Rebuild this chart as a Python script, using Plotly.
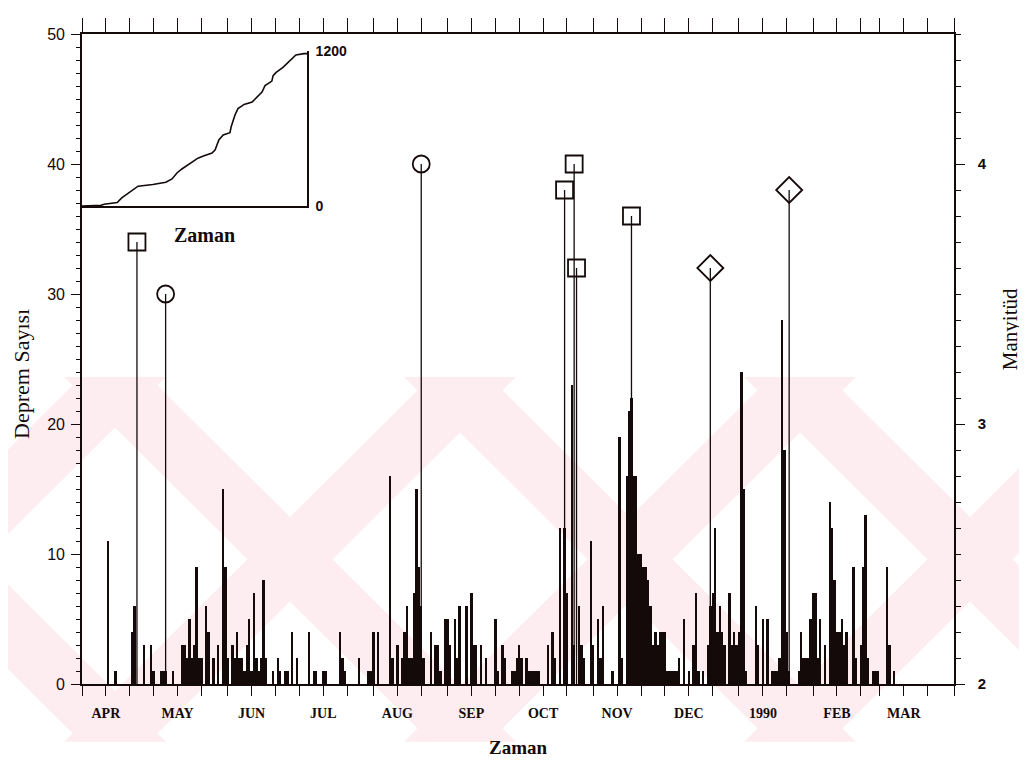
import datetime as dt
import plotly.graph_objects as go

# ---------------- data ----------------
start_date = dt.date(1989, 4, 1)

count_days = [11, 14, 21, 22, 26, 29, 30, 33, 34, 35, 38, 42, 43, 44, 45, 46, 47, 48, 49, 50,
              52, 53, 55, 57, 59, 60, 61, 63, 64, 65, 66, 67, 68, 69, 70, 71, 72, 73, 74, 75,
              76, 77, 80, 82, 83, 85, 86, 88, 90, 95, 97, 98, 101, 102, 108, 109, 110, 116, 120, 121,
              122, 124, 129, 130, 132, 134, 135, 136, 137, 138, 139, 140, 141, 142, 143, 146, 148, 149, 150, 152,
              153, 154, 156, 157, 158, 161, 163, 164, 165, 167, 169, 173, 174, 176, 177, 180, 181, 182, 183, 184,
              186, 187, 188, 189, 190, 191, 195, 197, 198, 200, 202, 203, 205, 206, 208, 209, 210, 213, 214, 216,
              217, 218, 222, 225, 226, 228, 229, 230, 231, 232, 233, 234, 235, 236, 237, 238, 239, 240, 241, 242,
              243, 244, 245, 246, 247, 248, 249, 250, 252, 254, 256, 257, 258, 260, 262, 263, 264, 265, 266, 267,
              268, 269, 271, 272, 273, 274, 275, 276, 277, 278, 282, 283, 285, 287, 289, 290, 291, 292, 293, 294,
              295, 296, 300, 301, 302, 303, 304, 305, 306, 307, 308, 309, 311, 313, 314, 315, 316, 317, 318, 319,
              320, 323, 324, 326, 327, 328, 329, 331, 332, 333, 337, 338, 340]
count_values = [11, 1, 4, 6, 3, 3, 1, 1, 1, 1, 1, 3, 3, 2, 5, 2, 3, 9, 2, 2,
                6, 4, 2, 3, 15, 9, 2, 3, 2, 4, 2, 2, 1, 3, 5, 1, 7, 2, 1, 2,
                8, 2, 1, 2, 1, 1, 1, 4, 2, 4, 1, 1, 1, 1, 4, 2, 1, 2, 1, 1,
                4, 4, 16, 2, 3, 2, 4, 6, 2, 2, 7, 15, 9, 6, 2, 4, 3, 3, 1, 5,
                5, 3, 5, 2, 6, 6, 7, 3, 3, 3, 2, 5, 1, 3, 2, 1, 1, 2, 3, 2,
                2, 1, 1, 1, 1, 1, 3, 4, 2, 12, 12, 7, 23, 3, 6, 3, 2, 11, 3, 5,
                2, 6, 1, 19, 2, 16, 21, 22, 16, 16, 10, 10, 9, 9, 8, 6, 3, 4, 3, 4,
                4, 4, 1, 1, 1, 1, 1, 2, 5, 1, 3, 7, 1, 1, 3, 6, 7, 12, 4, 6,
                4, 3, 7, 3, 4, 3, 4, 24, 15, 1, 6, 3, 5, 5, 1, 1, 1, 2, 28, 18,
                4, 1, 1, 4, 2, 2, 2, 5, 7, 7, 2, 5, 3, 14, 12, 8, 4, 4, 5, 3,
                4, 9, 2, 3, 9, 13, 2, 1, 1, 1, 9, 3, 1]

mag_days = [23, 35, 142, 202, 206, 207, 230, 263, 296]
mag_values = [3.7, 3.5, 4.0, 3.9, 4.0, 3.6, 3.8, 3.6, 3.9]
mag_symbols = ["square", "circle", "circle", "square", "square", "square", "square", "diamond", "diamond"]

inset_days = [0, 31, 36, 57, 65, 76, 83, 91, 115, 136, 146, 154, 162, 177, 188, 198, 211, 216,
              222, 229, 240, 242, 248, 253, 263, 276, 284, 292, 297, 308, 310, 315, 326, 339, 347, 360, 365]
inset_cum = [0, 5, 13, 26, 64, 102, 128, 153, 166, 184, 209, 255, 286, 337, 370, 388, 409, 434,
             511, 549, 567, 613, 702, 753, 786, 804, 842, 881, 932, 966, 1009, 1034, 1072, 1128, 1169, 1179, 1179]

month_labels = ["APR", "MAY", "JUN", "JUL", "AUG", "SEP", "OCT", "NOV", "DEC", "1990", "FEB", "MAR"]

# ---------------- derived ----------------
def day_to_date(d):
    return (start_date + dt.timedelta(days=d)).isoformat()

count_dates = [day_to_date(d) for d in count_days]
mag_dates = [day_to_date(d) for d in mag_days]

tickvals, ticktext = [], []
for i, lab in enumerate(month_labels):
    y = 1989 + (3 + i) // 12
    m = (3 + i) % 12 + 1
    for dd in (1, 11, 21):
        tickvals.append(dt.date(y, m, dd).isoformat())
        ticktext.append(lab if dd == 11 else "")
tickvals.append("1990-04-01")
ticktext.append("")

stem_x, stem_y = [], []
for d, v in zip(mag_dates, mag_values):
    stem_x += [d, d, None]
    stem_y += [2, v, None]

# ---------------- figure ----------------
INK = "#140a0a"
fig = go.Figure()

fig.add_trace(go.Bar(x=count_dates, y=count_values, width=86400000,
                     marker=dict(color=INK, line=dict(width=0)), showlegend=False))

fig.add_trace(go.Scatter(x=stem_x, y=stem_y, yaxis="y2", mode="lines",
                         line=dict(color=INK, width=1.3), showlegend=False, hoverinfo="skip"))

sizes = {"square": 17, "circle": 17, "diamond": 20}
for sym in ["square", "circle", "diamond"]:
    xs = [d for d, s in zip(mag_dates, mag_symbols) if s == sym]
    ys = [v for v, s in zip(mag_values, mag_symbols) if s == sym]
    fig.add_trace(go.Scatter(x=xs, y=ys, yaxis="y2", mode="markers",
                             marker=dict(symbol=sym + "-open", size=sizes[sym],
                                         color=INK, line=dict(color=INK, width=1.8)),
                             showlegend=False))

fig.add_trace(go.Scatter(x=inset_days, y=inset_cum, xaxis="x3", yaxis="y3", mode="lines",
                         line=dict(color=INK, width=1.6), showlegend=False))

# invisible trace to activate the top tick axis
fig.add_trace(go.Scatter(x=[count_dates[0]], y=[count_values[0]], xaxis="x2", mode="markers",
                         marker=dict(opacity=0), showlegend=False, hoverinfo="skip"))

# page body offset (8px) -> layout expressed in screenshot pixel coordinates
OFF = 8
L, R, T, B = 82 - OFF, 954 - OFF, 30 - OFF, 684 - OFF
W, H = R - L, B - T
def px(X):
    return (X - OFF - L) / W
def py(Y):
    return (B - (Y - OFF)) / H

# watermark-like light pink X pattern (decoration of the scanned page)
shapes = []
y_top, y_bot = 375, 742
half = (y_bot - y_top) / 2
bw = 85
for cx in [-60, 290, 630, 970]:
    for sgn in (1, -1):
        xa = cx - sgn * half
        xb = cx + sgn * half
        path = "M {} {} L {} {} L {} {} L {} {} Z".format(
            px(xa - bw / 2), py(y_top), px(xa + bw / 2), py(y_top),
            px(xb + bw / 2), py(y_bot), px(xb - bw / 2), py(y_bot))
        shapes.append(dict(type="path", path=path, xref="paper", yref="paper",
                           fillcolor="#fdedf0", line=dict(width=0), layer="below"))

serif = "Liberation Serif, Times New Roman, serif"
sans = "Liberation Sans, Arial, sans-serif"

fig.update_layout(
    width=1027, height=768,
    margin=dict(l=L, r=1027 - R, t=T, b=768 - B),
    paper_bgcolor="white", plot_bgcolor="rgba(0,0,0,0)",
    shapes=shapes,
    xaxis=dict(type="date", range=["1989-04-01", "1990-04-01"],
               tickvals=tickvals, ticktext=ticktext, tickangle=0,
               ticks="outside", ticklen=10, tickwidth=1.2, tickcolor=INK,
               showline=True, linecolor=INK, linewidth=1.6, mirror=False,
               showgrid=False, zeroline=False, ticklabelstandoff=5,
               tickfont=dict(family=serif, size=14, color=INK, weight="bold")),
    xaxis2=dict(type="date", overlaying="x", side="top", anchor="y",
                range=["1989-04-01", "1990-04-01"], tickvals=tickvals,
                showticklabels=False, ticks="outside", ticklen=14, tickwidth=1.2,
                tickcolor=INK, showline=True, linecolor=INK, linewidth=1.6,
                showgrid=False, zeroline=False),
    yaxis=dict(range=[0, 50], tickvals=[0, 10, 20, 30, 40, 50],
               ticks="outside", ticklen=9, tickwidth=1.3, tickcolor=INK,
               minor=dict(dtick=1, ticks="outside", ticklen=4, tickcolor=INK, tickwidth=1),
               showline=True, linecolor=INK, linewidth=1.6,
               showgrid=False, zeroline=False, ticklabelstandoff=3,
               tickfont=dict(family=sans, size=16, color=INK)),
    yaxis2=dict(overlaying="y", side="right", anchor="x", range=[2, 4.5],
                tickvals=[2, 3, 4],
                ticks="outside", ticklen=9, tickwidth=1.3, tickcolor=INK,
                minor=dict(dtick=0.1, ticks="outside", ticklen=5, tickcolor=INK, tickwidth=1),
                showline=True, linecolor=INK, linewidth=1.6,
                showgrid=False, zeroline=False, ticklabelstandoff=10,
                tickfont=dict(family=sans, size=15, color=INK, weight="bold")),
    xaxis3=dict(domain=[0, px(307)], anchor="y3", range=[0, 365],
                showline=True, linecolor=INK, linewidth=1.6, ticks="",
                showticklabels=False, showgrid=False, zeroline=False),
    yaxis3=dict(domain=[py(203), py(47)], anchor="x3", side="right", range=[0, 1200],
                tickvals=[0, 1200], ticks="", showline=True, linecolor=INK, linewidth=1.6,
                showgrid=False, zeroline=False, ticklabelstandoff=4,
                tickfont=dict(family=sans, size=14, color=INK, weight="bold")),
    annotations=[
        dict(text="Deprem Sayısı", x=px(22), y=py(372), xref="paper", yref="paper",
             xanchor="center", yanchor="middle",
             textangle=-90, showarrow=False,
             font=dict(family=serif, size=22, color=INK)),
        dict(text="Manyitüd", x=px(1010), y=py(327), xref="paper", yref="paper",
             xanchor="center", yanchor="middle",
             textangle=-90, showarrow=False,
             font=dict(family=serif, size=21, color=INK)),
        dict(text="<b>Zaman</b>", x=px(519), y=py(748), xref="paper", yref="paper",
             xanchor="center", yanchor="middle",
             showarrow=False, font=dict(family=serif, size=19, color=INK)),
        dict(text="<b>Zaman</b>", x=px(204), y=py(232), xref="paper", yref="paper",
             xanchor="center", yanchor="middle",
             showarrow=False, font=dict(family=serif, size=20, color=INK)),
    ],
    bargap=0,
)

fig.write_html("out.html")
